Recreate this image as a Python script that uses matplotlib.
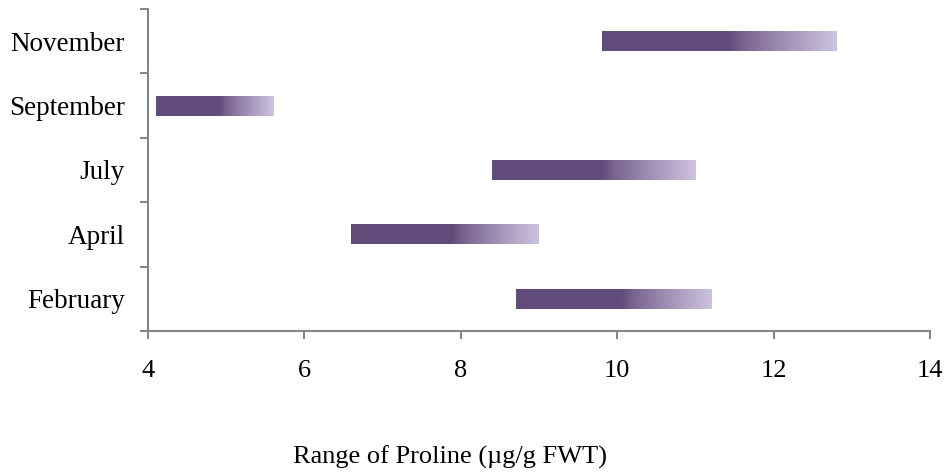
import numpy as np
import matplotlib
matplotlib.use('Agg')
import matplotlib.pyplot as plt
from matplotlib.colors import LinearSegmentedColormap

months = ['February', 'April', 'July', 'September', 'November']
proline_low = [8.7, 6.6, 8.4, 4.1, 9.8]
proline_high = [11.2, 9.0, 11.0, 5.6, 12.8]

plt.rcParams['font.family'] = ['Liberation Serif', 'DejaVu Serif']

# dark purple that fades into lavender over the last ~45% of each bar
cmap = LinearSegmentedColormap.from_list('prol', [
    (0.0, '#604B7A'), (0.54, '#614C7B'), (0.6, '#7A6590'),
    (0.8, '#A595BA'), (1.0, '#CDC3DF')])
grad = np.linspace(0, 1, 256).reshape(1, -1)

fig = plt.figure(figsize=(9.51, 4.76), dpi=100)
ax = fig.add_axes([148/951, 1 - 331/476, (930 - 148)/951, (331 - 9)/476])

bar_h = 0.31
for i, (lo, hi) in enumerate(zip(proline_low, proline_high)):
    ax.imshow(grad, cmap=cmap, aspect='auto', interpolation='bilinear',
              extent=[lo, hi, i - bar_h/2, i + bar_h/2])

ax.set_xlim(4, 14)
ax.set_ylim(-0.5, len(months) - 0.5)
ax.set_xticks(range(4, 15, 2))
ax.set_yticks(range(len(months)))
ax.set_yticklabels(months)
ax.set_yticks(np.arange(-0.5, len(months), 1), minor=True)

for s in ['top', 'right']:
    ax.spines[s].set_visible(False)
for s in ['left', 'bottom']:
    ax.spines[s].set_color('#868686')
    ax.spines[s].set_linewidth(1.5)

ax.tick_params(axis='y', which='major', length=0, pad=16.5, labelsize=19.5)
ax.tick_params(axis='y', which='minor', length=6, width=1.5, color='#868686')
ax.tick_params(axis='x', length=6, width=1.5, color='#868686', pad=15, labelsize=19)

fig.text(450/951, 1 - 457/476, 'Range of Proline (\u00b5g/g FWT)',
         ha='center', va='center', fontsize=19)

fig.savefig('out.png', dpi=100)
